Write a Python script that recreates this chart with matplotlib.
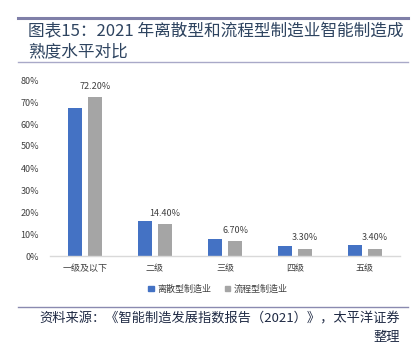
import matplotlib
matplotlib.use("Agg")
import matplotlib.pyplot as plt
from matplotlib.lines import Line2D
from matplotlib.patches import Patch
import numpy as np

plt.rcParams['font.family'] = ['Noto Sans CJK SC', 'DejaVu Sans']

categories = ["一级及以下", "二级", "三级", "四级", "五级"]
discrete = [67.3, 15.9, 7.7, 4.7, 5.0]
process = [72.2, 14.4, 6.7, 3.3, 3.4]
process_labels = ["72.20%", "14.40%", "6.70%", "3.30%", "3.40%"]
yticks = [0, 10, 20, 30, 40, 50, 60, 70, 80]
series_names = ["离散型制造业", "流程型制造业"]

W, H = 420, 349
fig = plt.figure(figsize=(W / 100, H / 100), dpi=100)

def fx(px):
    return px / W

def fy(py):
    return 1 - py / H

# top decorative line and title
fig.add_artist(Line2D([fx(18), fx(408)], [fy(18), fy(18)], color="#7F7FA8", lw=2.2))
title_color = "#2E4460"
fig.text(fx(28), fy(32), "图表15：2021 年离散型和流程型制造业智能制造成",
         fontsize=12, color=title_color, va="center", ha="left")
fig.text(fx(28), fy(52), "熟度水平对比",
         fontsize=12, color=title_color, va="center", ha="left")
fig.add_artist(Line2D([fx(18), fx(408)], [fy(62), fy(62)], color="#A9A9C8", lw=1.0))

ax = fig.add_axes([fx(50), fy(256), fx(400) - fx(50), fy(80) - fy(256)])
x = np.arange(len(categories))
w = 0.21
off = 0.143
blue = "#4472C4"
gray = "#A5A5A5"
ax.bar(x - off, discrete, width=w, color=blue, label=series_names[0])
ax.bar(x + off, process, width=w, color=gray, label=series_names[1])
for xi, v, lab in zip(x, process, process_labels):
    ax.annotate(lab, (xi + off, v), xytext=(0, 11), textcoords="offset pixels",
                ha="center", va="center", fontsize=6.5, color="#404040")

ax.set_xlim(-0.5, 4.5)
ax.set_ylim(0, 80)
ax.set_yticks(yticks)
ax.set_yticklabels([f"{t}%" for t in yticks])
ax.set_xticks(x)
ax.set_xticklabels(categories)
ax.tick_params(axis="y", length=0, pad=8, labelsize=6.5, labelcolor="#404040")
ax.tick_params(axis="x", length=0, pad=6, labelsize=6.5, labelcolor="#404040")
for s in ["top", "right", "left"]:
    ax.spines[s].set_visible(False)
ax.spines["bottom"].set_color("#D9D9D9")
ax.spines["bottom"].set_linewidth(1.0)

handles = [Patch(color=blue), Patch(color=gray)]
fig.legend(handles, series_names, loc="center", bbox_to_anchor=(fx(218), fy(289)),
           ncol=2, frameon=False, fontsize=6.5, handlelength=0.6, handleheight=0.6,
           handletextpad=0.4, columnspacing=1.5, labelcolor="#404040")

fig.add_artist(Line2D([fx(18), fx(408)], [fy(307), fy(307)], color="#8A8AB0", lw=1.0))
fig.text(fx(400), fy(319), "资料来源：《智能制造发展指数报告（2021）》，太平洋证券",
         fontsize=9.5, color="#1F2A44", ha="right", va="center", style="italic")
fig.text(fx(400), fy(338), "整理",
         fontsize=9.5, color="#1F2A44", ha="right", va="center", style="italic")

fig.savefig("out.png", dpi=100)
